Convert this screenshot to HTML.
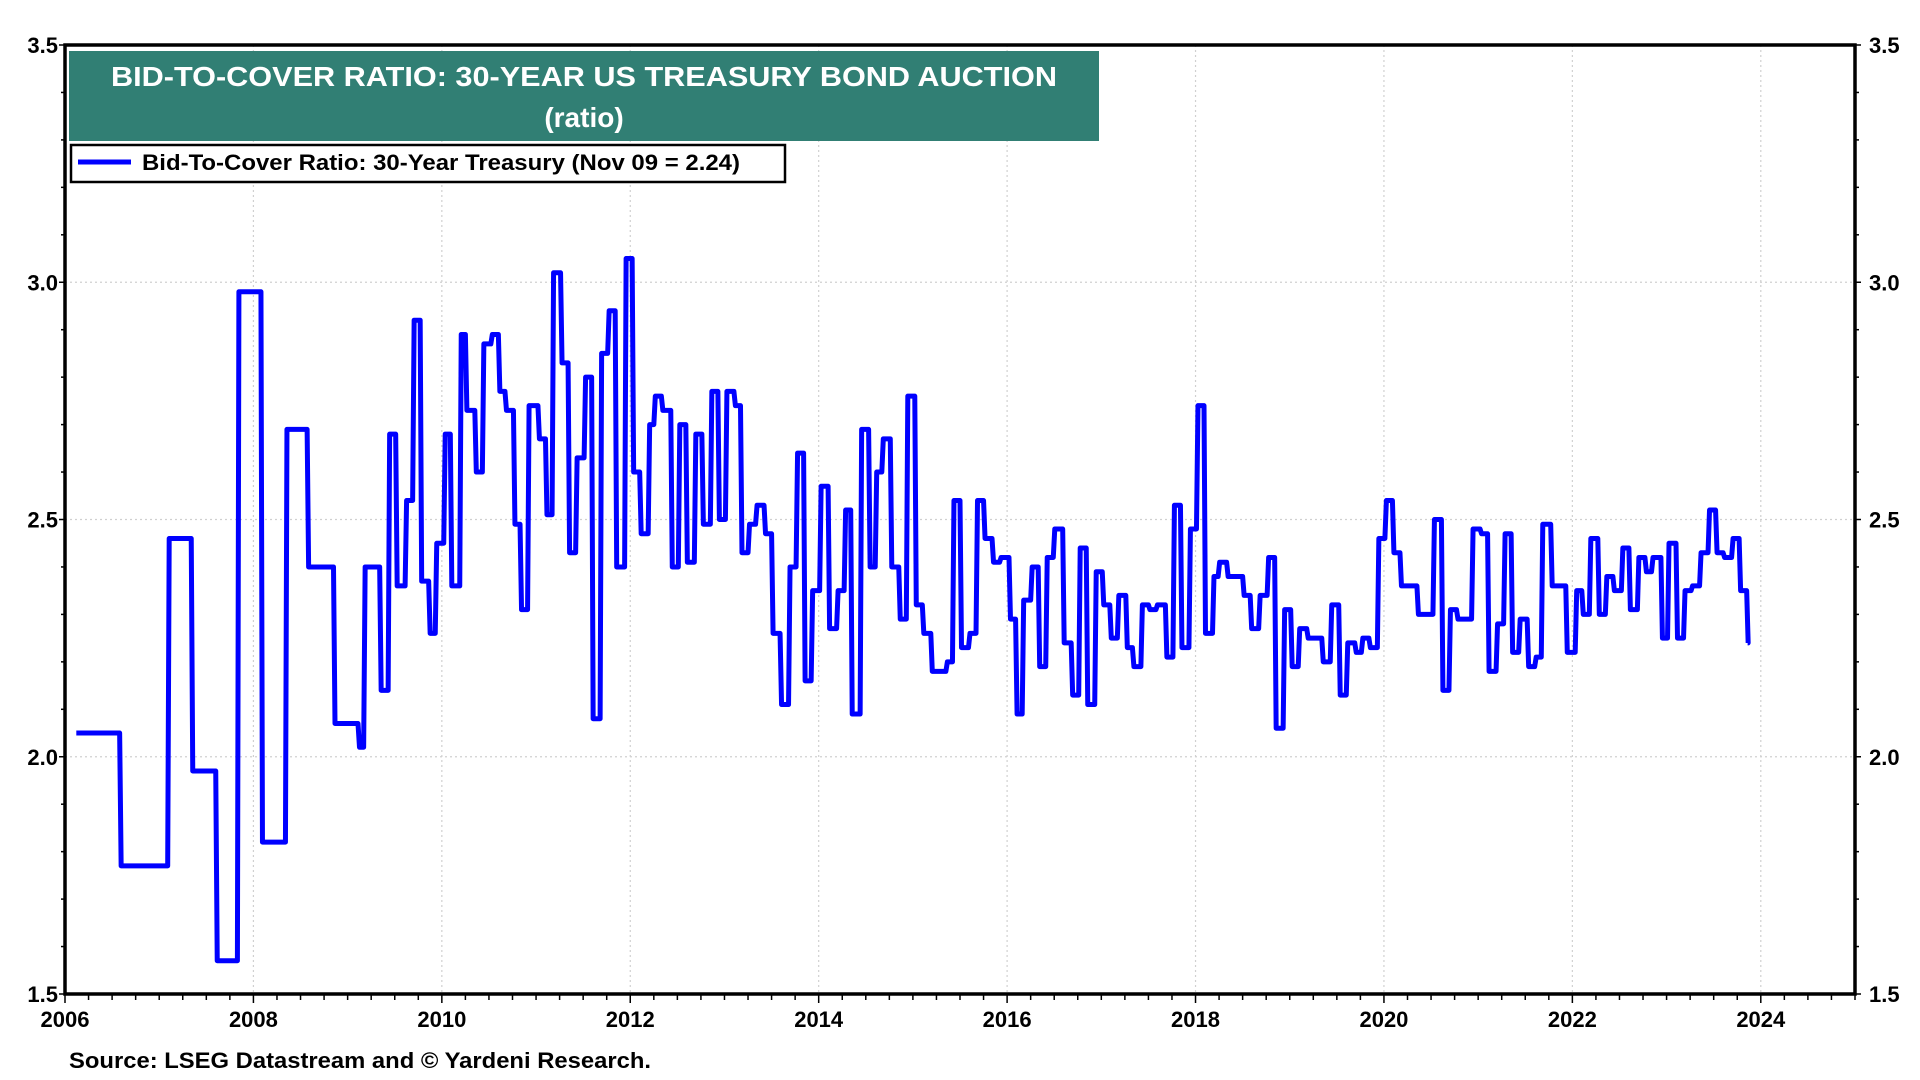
<!DOCTYPE html>
<html><head><meta charset="utf-8"><style>
html,body{margin:0;padding:0;background:#fff;}
svg{display:block;font-family:"Liberation Sans",Arial,sans-serif;font-weight:bold;}
</style></head><body>
<svg id="chart" width="1920" height="1080" viewBox="0 0 1920 1080" xmlns="http://www.w3.org/2000/svg">
<g id="grid"></g>
<g id="ticks"></g>
<path id="series" fill="none" stroke="#0000ff" stroke-width="5" stroke-linejoin="round"/>
<rect x="65" y="45" width="1790" height="949" fill="none" stroke="#000" stroke-width="3.5"/>
<rect x="69" y="51" width="1030" height="90" fill="#317f74"/>
<text x="584" y="86" text-anchor="middle" fill="#fff" font-size="28" textLength="946" lengthAdjust="spacingAndGlyphs">BID-TO-COVER RATIO: 30-YEAR US TREASURY BOND AUCTION</text>
<text x="584" y="127" text-anchor="middle" fill="#fff" font-size="28">(ratio)</text>
<g>
<rect x="71" y="145" width="714" height="37" fill="#fff" stroke="#000" stroke-width="2.5"/>
<line x1="78" y1="162" x2="131" y2="162" stroke="#0000ff" stroke-width="5"/>
<text x="142" y="170" font-size="22" textLength="598" lengthAdjust="spacingAndGlyphs">Bid-To-Cover Ratio: 30-Year Treasury (Nov 09 = 2.24)</text>
</g>
<g id="labels"></g>
<text x="69" y="1068" font-size="22" textLength="582" lengthAdjust="spacingAndGlyphs">Source: LSEG Datastream and © Yardeni Research.</text>
</svg>
<script>
const dates=[2006.12,2006.58,2007.09,2007.34,2007.60,2007.83,2008.08,2008.34,2008.57,2008.85,2009.11,2009.17,2009.34,2009.43,2009.51,2009.61,2009.69,2009.77,2009.86,2009.93,2010.02,2010.09,2010.19,2010.25,2010.35,2010.43,2010.52,2010.60,2010.67,2010.76,2010.83,2010.91,2011.02,2011.10,2011.17,2011.26,2011.34,2011.42,2011.51,2011.59,2011.68,2011.76,2011.84,2011.94,2012.02,2012.10,2012.19,2012.25,2012.33,2012.43,2012.51,2012.59,2012.68,2012.76,2012.85,2012.93,2013.01,2013.10,2013.17,2013.25,2013.33,2013.42,2013.50,2013.59,2013.68,2013.76,2013.84,2013.92,2014.01,2014.10,2014.19,2014.27,2014.34,2014.44,2014.53,2014.60,2014.67,2014.76,2014.85,2014.93,2015.02,2015.10,2015.19,2015.35,2015.42,2015.50,2015.59,2015.67,2015.75,2015.84,2015.92,2016.02,2016.09,2016.16,2016.25,2016.33,2016.41,2016.49,2016.59,2016.68,2016.76,2016.84,2016.93,2017.01,2017.09,2017.17,2017.26,2017.33,2017.42,2017.50,2017.58,2017.68,2017.76,2017.84,2017.93,2018.01,2018.09,2018.18,2018.24,2018.33,2018.50,2018.58,2018.67,2018.76,2018.84,2018.93,2019.01,2019.09,2019.18,2019.34,2019.43,2019.52,2019.60,2019.69,2019.76,2019.84,2019.93,2020.01,2020.09,2020.17,2020.35,2020.52,2020.61,2020.69,2020.77,2020.93,2021.02,2021.10,2021.19,2021.27,2021.35,2021.43,2021.52,2021.60,2021.67,2021.77,2021.93,2022.03,2022.10,2022.18,2022.27,2022.35,2022.43,2022.52,2022.60,2022.69,2022.77,2022.84,2022.94,2023.01,2023.10,2023.18,2023.26,2023.35,2023.44,2023.52,2023.60,2023.69,2023.77,2023.85];
const values=[2.05,1.77,2.46,1.97,1.57,2.98,1.82,2.69,2.40,2.07,2.02,2.40,2.14,2.68,2.36,2.54,2.92,2.37,2.26,2.45,2.68,2.36,2.89,2.73,2.60,2.87,2.89,2.77,2.73,2.49,2.31,2.74,2.67,2.51,3.02,2.83,2.43,2.63,2.80,2.08,2.85,2.94,2.40,3.05,2.60,2.47,2.70,2.76,2.73,2.40,2.70,2.41,2.68,2.49,2.77,2.50,2.77,2.74,2.43,2.49,2.53,2.47,2.26,2.11,2.40,2.64,2.16,2.35,2.57,2.27,2.35,2.52,2.09,2.69,2.40,2.60,2.67,2.40,2.29,2.76,2.32,2.26,2.18,2.20,2.54,2.23,2.26,2.54,2.46,2.41,2.42,2.29,2.09,2.33,2.40,2.19,2.42,2.48,2.24,2.13,2.44,2.11,2.39,2.32,2.25,2.34,2.23,2.19,2.32,2.31,2.32,2.21,2.53,2.23,2.48,2.74,2.26,2.38,2.41,2.38,2.34,2.27,2.34,2.42,2.06,2.31,2.19,2.27,2.25,2.20,2.32,2.13,2.24,2.22,2.25,2.23,2.46,2.54,2.43,2.36,2.30,2.50,2.14,2.31,2.29,2.48,2.47,2.18,2.28,2.47,2.22,2.29,2.19,2.21,2.49,2.36,2.22,2.35,2.30,2.46,2.30,2.38,2.35,2.44,2.31,2.42,2.39,2.42,2.25,2.45,2.25,2.35,2.36,2.43,2.52,2.43,2.42,2.46,2.35,2.24];
const endDate=2023.86;
const yTicks=[1.5,2.0,2.5,3.0,3.5];
const xTicks=[2006,2008,2010,2012,2014,2016,2018,2020,2022,2024];
const X0=65,X1=1855,Y0=994,Y1=45,D0=2006,D1=2025,V0=1.5,V1=3.5;
function xs(d){return X0+(d-D0)/(D1-D0)*(X1-X0);}
function ys(v){return Y0-(v-V0)/(V1-V0)*(Y0-Y1);}
const NS='http://www.w3.org/2000/svg';
function mk(tag,attrs,parent){const e=document.createElementNS(NS,tag);for(const k in attrs)e.setAttribute(k,attrs[k]);parent.appendChild(e);return e;}
const grid=document.getElementById('grid'),ticks=document.getElementById('ticks'),labels=document.getElementById('labels');
yTicks.forEach(v=>{
  if(v>V0&&v<V1){const g=mk('line',{x1:X0,x2:X1,y1:ys(v),y2:ys(v),stroke:'#d0d0d0','stroke-width':1.2,'stroke-dasharray':'2,3'},grid);
  
  }
  const l=mk('text',{x:58,y:ys(v)+8,'text-anchor':'end','font-size':22},labels);l.textContent=v.toFixed(1);
  
  
  const r=mk('text',{x:1869,y:ys(v)+8,'font-size':22},labels);r.textContent=v.toFixed(1);
  
  
});
for(let k=0;k<=20;k++){const v=V0+k*0.1;const y=ys(v);
  const big=(k%5===0);
  mk('line',{x1:X0-(big?6:4),x2:X0,y1:y,y2:y,stroke:'#000','stroke-width':1.5},ticks);
  mk('line',{x1:X1,x2:X1+(big?6:4),y1:y,y2:y,stroke:'#000','stroke-width':1.5},ticks);}
xTicks.forEach(d=>{
  if(d>D0){const g=mk('line',{x1:xs(d),x2:xs(d),y1:Y1,y2:Y0,stroke:'#d0d0d0','stroke-width':1.2,'stroke-dasharray':'2,3'},grid);
  
  }
  const t=mk('text',{x:xs(d),y:1027,'text-anchor':'middle','font-size':22},labels);t.textContent=d;
  
  
});
for(let q=D0;q<=D1+0.001;q+=0.25){const x=xs(q);const big=Math.abs(q-Math.round(q))<0.01&&Math.round(q)%2===0;
  mk('line',{x1:x,x2:x,y1:Y0,y2:Y0+(big?9:6),stroke:'#000','stroke-width':1.5},ticks);}
let p='M'+xs(dates[0])+','+ys(values[0]);
for(let i=1;i<dates.length;i++){p+=' L'+xs(dates[i])+','+ys(values[i-1])+' L'+(xs(dates[i])+1.5)+','+ys(values[i]);}
p+=' L'+xs(endDate)+','+ys(values[values.length-1]);
document.getElementById('series').setAttribute('d',p);
</script>
</body></html>
